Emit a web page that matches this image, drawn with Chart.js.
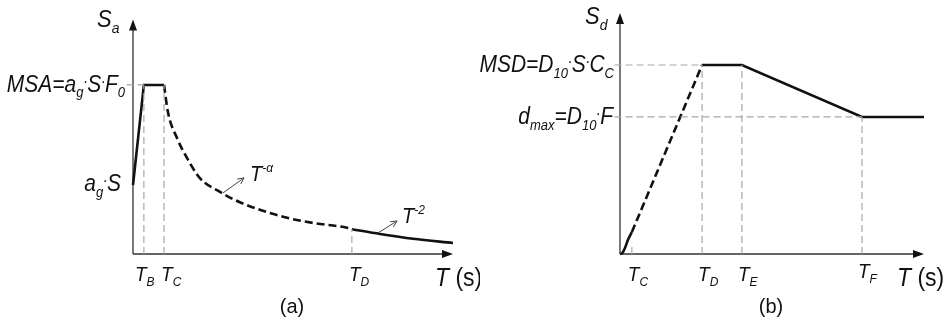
<!DOCTYPE html>
<html><head><meta charset="utf-8">
<script src="https://cdn.jsdelivr.net/npm/chart.js@4.4.1/dist/chart.umd.min.js"></script>
<style>
html,body{margin:0;padding:0;background:#fff;overflow:hidden}
#ca{position:absolute;left:0;top:0}
#cb{position:absolute;left:480px;top:0}
</style></head><body>
<canvas id="ca" width="480" height="334"></canvas>
<canvas id="cb" width="469" height="334"></canvas>
<script>
// ---------- Panel (a): elastic acceleration spectrum (schematic units) ----------
const aRiseT = [0, 0.34, 0.97];
const aRiseS = [1.0, 2.45, 2.45];
const aDescT = [0.97, 1.09, 1.375, 1.69, 2.09, 2.72, 3.34, 4.69, 5.63, 6.69, 6.84];
const aDescS = [2.45, 2.06, 1.68, 1.39, 1.10, 0.90, 0.75, 0.54, 0.45, 0.38, 0.36];
const aTailT = [6.84, 7.72, 8.75, 10];
const aTailS = [0.36, 0.29, 0.22, 0.16];
const aTickT = [0.34, 0.97, 6.84];
const aTickSub = ['B', 'C', 'D'];
const aLevelS = [2.45, 1.0];
// ---------- Panel (b): elastic displacement spectrum (schematic units) ----------
const bStartT = [0, 0.08, 0.164, 0.26, 0.39];
const bStartS = [0, 0.006, 0.032, 0.074, 0.116];
const bRampT = [0.39, 2.70];
const bRampS = [0.116, 1.0];
const bRestT = [2.70, 4.01, 7.96, 10];
const bRestS = [1.0, 1.0, 0.725, 0.725];
const bTickT = [0.39, 2.70, 4.01, 7.96];
const bTickSub = ['C', 'D', 'E', 'F'];
const bLevelS = [1.0, 0.725];

const FONT = '"Liberation Sans", Arial, sans-serif';
const pts = (xs, ys) => xs.map((x, i) => ({x, y: ys[i]}));

// parts: [text, pos, upright]; pos 0 normal, -1 subscript, 1 superscript, 2 small raised dot
function rich(ctx, parts, x, y, align, size, k) {
  k = k || 1.1;
  const sz = (p) => p[1] === 2 ? Math.round(size * 0.7) : p[1] ? Math.round(size * 0.62) : size;
  const f = (p) => (p[2] ? '' : 'italic ') + sz(p) + 'px ' + FONT;
  const wOf = (p) => { ctx.font = f(p); return ctx.measureText(p[0]).width * (p[1] === 2 ? 0.75 : 1); };
  let w = 0;
  parts.forEach(p => { w += wOf(p); });
  let cx = align === 'right' ? x - w : align === 'center' ? x - w / 2 : x;
  ctx.save();
  ctx.translate(0, y); ctx.scale(1, k);
  ctx.fillStyle = '#111';
  ctx.textBaseline = 'alphabetic';
  ctx.textAlign = 'left';
  parts.forEach(p => {
    const ww = wOf(p);
    ctx.font = f(p);
    const dy = p[1] === -1 ? size * 0.24 : p[1] === 1 ? -size * 0.42 : p[1] === 2 ? -size * 0.2 : 0;
    ctx.fillText(p[0], cx - (p[1] === 2 ? ww * 0.15 : 0), dy);
    cx += ww;
  });
  ctx.restore();
}

function arrowAxes(chart) {
  const {ctx, chartArea: a} = chart;
  ctx.save();
  ctx.strokeStyle = '#333'; ctx.fillStyle = '#111'; ctx.lineWidth = 1.3;
  ctx.beginPath();
  ctx.moveTo(a.left, a.bottom); ctx.lineTo(a.left, a.top + 6);
  ctx.moveTo(a.left, a.bottom); ctx.lineTo(a.right - 6, a.bottom);
  ctx.stroke();
  ctx.beginPath();
  ctx.moveTo(a.left, a.top); ctx.lineTo(a.left - 4, a.top + 11); ctx.lineTo(a.left + 4, a.top + 11); ctx.closePath();
  ctx.moveTo(a.right, a.bottom); ctx.lineTo(a.right - 11, a.bottom - 4); ctx.lineTo(a.right - 11, a.bottom + 4); ctx.closePath();
  ctx.fill();
  ctx.restore();
}

function thinArrow(ctx, x1, y1, x2, y2) {
  ctx.save();
  ctx.strokeStyle = '#444'; ctx.lineWidth = 1;
  ctx.beginPath(); ctx.moveTo(x1, y1); ctx.lineTo(x2, y2);
  const ang = Math.atan2(y2 - y1, x2 - x1), L = 7;
  ctx.moveTo(x2, y2); ctx.lineTo(x2 - L * Math.cos(ang - 0.45), y2 - L * Math.sin(ang - 0.45));
  ctx.moveTo(x2, y2); ctx.lineTo(x2 - L * Math.cos(ang + 0.45), y2 - L * Math.sin(ang + 0.45));
  ctx.stroke(); ctx.restore();
}

const guideStyle = {borderColor: '#a8a8a8', borderWidth: 1.2, borderDash: [7, 4], pointRadius: 0, showLine: true, fill: false, clip: false};
const curveStyle = {borderColor: '#111', borderWidth: 2.6, pointRadius: 0, showLine: true, fill: false, clip: false, borderCapStyle: 'butt'};

function baseOptions(xmax, ymax, pad) {
  return {
    responsive: false, animation: false, devicePixelRatio: 1,
    layout: {padding: pad},
    plugins: {legend: {display: false}, tooltip: {enabled: false}},
    scales: {
      x: {type: 'linear', min: 0, max: xmax, display: false},
      y: {type: 'linear', min: 0, max: ymax, display: false}
    }
  };
}

// ---------- chart (a) ----------
const guidesA = [
  pts([aTickT[0], aTickT[0]], [0, aLevelS[0]]),
  pts([aTickT[1], aTickT[1]], [0, aLevelS[0]]),
  pts([aTickT[2], aTickT[2]], [0, aTailS[0]]),
  pts([-0.2, aTickT[0]], [aLevelS[0], aLevelS[0]])
];
new Chart(document.getElementById('ca'), {
  type: 'scatter',
  data: {datasets: [
    ...guidesA.map(d => Object.assign({data: d}, guideStyle)),
    Object.assign({data: pts(aRiseT, aRiseS), borderJoinStyle: 'miter'}, curveStyle),
    Object.assign({data: pts(aDescT, aDescS), borderDash: [8, 4], cubicInterpolationMode: 'monotone'}, curveStyle),
    Object.assign({data: pts(aTailT, aTailS), cubicInterpolationMode: 'monotone'}, curveStyle)
  ]},
  options: baseOptions(10, 3.4, {left: 133, right: 27, top: 19.4, bottom: 80}),
  plugins: [{
    id: 'deco',
    beforeDatasetsDraw: arrowAxes,
    afterDatasetsDraw(chart) {
      const {ctx, chartArea: a, scales: {x, y}} = chart;
      rich(ctx, [['S', 0], ['a', -1]], a.left - 36, a.top + 8, 'left', 22);
      rich(ctx, [['MSA=a', 0], ['g', -1], ['·', 2], ['S', 0], ['·', 2], ['F', 0], ['0', -1]], a.left - 8, y.getPixelForValue(aLevelS[0]) + 7, 'right', 21);
      rich(ctx, [['a', 0], ['g', -1], ['·', 2], ['S', 0]], a.left - 12, y.getPixelForValue(aLevelS[1]) + 6, 'right', 21);
      const dxs = [-9, -3, -3];
      aTickT.forEach((t, i) => rich(ctx, [['T', 0], [aTickSub[i], -1]], x.getPixelForValue(t) + dxs[i], a.bottom + 27, 'left', 19));
      rich(ctx, [['T', 0], [' (s)', 0, true]], a.right - 18, a.bottom + 32, 'left', 23);
      rich(ctx, [['(a)', 0, true]], (a.left + a.right) / 2 - 1, a.bottom + 59, 'center', 20, 1.05);
      // slope annotations
      const p1x = x.getPixelForValue(aDescT[5]) + 3, p1y = y.getPixelForValue(aDescS[5]) + 1;
      thinArrow(ctx, p1x, p1y, p1x + 21, p1y - 15);
      rich(ctx, [['T', 0], ['-α', 1]], p1x + 27, p1y - 12, 'left', 20);
      const p2x = x.getPixelForValue(aTailT[1]) - 2, p2y = y.getPixelForValue(aTailS[1]) - 1;
      thinArrow(ctx, p2x, p2y, p2x + 19, p2y - 12);
      rich(ctx, [['T', 0], ['-2', 1]], p2x + 24, p2y - 10, 'left', 20);
    }
  }]
});

// ---------- chart (b) ----------
const guidesB = [
  pts([-0.18, bTickT[1]], [bLevelS[0], bLevelS[0]]),
  pts([-0.18, bTickT[3]], [bLevelS[1], bLevelS[1]]),
  pts([bTickT[0], bTickT[0]], [0, 0.06]),
  pts([bTickT[1], bTickT[1]], [0, bLevelS[0]]),
  pts([bTickT[2], bTickT[2]], [0, bLevelS[0]]),
  pts([bTickT[3], bTickT[3]], [0, bLevelS[1]])
];
new Chart(document.getElementById('cb'), {
  type: 'scatter',
  data: {datasets: [
    ...guidesB.map(d => Object.assign({data: d}, guideStyle)),
    Object.assign({data: pts(bStartT, bStartS), cubicInterpolationMode: 'monotone'}, curveStyle),
    Object.assign({data: pts(bRampT, bRampS), borderDash: [8, 4]}, curveStyle),
    Object.assign({data: pts(bRestT, bRestS), borderJoinStyle: 'miter'}, curveStyle)
  ]},
  options: baseOptions(10, 1.275, {left: 140, right: 25, top: 13, bottom: 80}),
  plugins: [{
    id: 'deco',
    beforeDatasetsDraw: arrowAxes,
    afterDatasetsDraw(chart) {
      const {ctx, chartArea: a, scales: {x, y}} = chart;
      rich(ctx, [['S', 0], ['d', -1]], a.left - 35, a.top + 11, 'left', 22);
      rich(ctx, [['MSD=D', 0], ['10', -1], ['·', 2], ['S', 0], ['·', 2], ['C', 0], ['C', -1]], a.left - 6, y.getPixelForValue(bLevelS[0]) + 7, 'right', 21);
      rich(ctx, [['d', 0], ['max', -1], ['=D', 0], ['10', -1], ['·', 2], ['F', 0]], a.left - 7, y.getPixelForValue(bLevelS[1]) + 7, 'right', 21);
      const dys = [27, 27, 27, 24];
      bTickT.forEach((t, i) => rich(ctx, [['T', 0], [bTickSub[i], -1]], x.getPixelForValue(t) - 4, a.bottom + dys[i], 'left', 19));
      rich(ctx, [['T', 0], [' (s)', 0, true]], a.right - 27, a.bottom + 32, 'left', 23);
      rich(ctx, [['(b)', 0, true]], x.getPixelForValue(5) - 1, a.bottom + 59, 'center', 20, 1.05);
    }
  }]
});
</script>
</body></html>
